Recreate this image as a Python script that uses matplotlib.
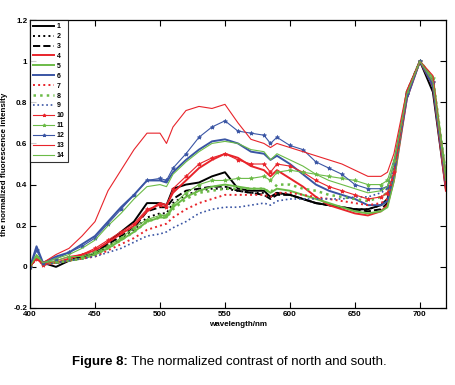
import numpy as np
import matplotlib
matplotlib.use('Agg')
import matplotlib.pyplot as plt

plt.rcParams['font.family'] = ['Liberation Sans', 'DejaVu Sans']

# wavelength grid (nm)
wl = [400, 405, 410, 420, 430, 440, 450, 460, 470, 480, 490, 500, 505, 510, 520, 530, 540,
      550, 560, 570, 580, 585, 590, 600, 610, 620, 630, 640, 650, 660, 670, 675, 680, 690,
      700, 710, 720]

s1 = [0, .05, .02, .00, .03, .05, .06, .12, .17, .22, .31, .31, .30, .38, .40, .41, .44,
      .46, .38, .37, .37, .34, .36, .35, .33, .31, .30, .29, .28, .28, .30, .33, .45, .85,
      1.0, .85, .38]
s2 = [0, .05, .02, .02, .03, .05, .06, .10, .14, .18, .24, .26, .26, .31, .35, .37, .38,
      .38, .37, .36, .36, .34, .36, .35, .33, .31, .30, .29, .28, .28, .30, .32, .45, .84,
      1.0, .88, .40]
s3 = [0, .05, .02, .02, .03, .05, .07, .11, .15, .19, .27, .29, .29, .33, .37, .38, .39,
      .39, .37, .36, .35, .33, .35, .35, .33, .31, .30, .29, .28, .27, .28, .31, .44, .84,
      1.0, .88, .40]
s4 = [0, .05, .01, .02, .04, .06, .08, .12, .16, .20, .27, .31, .30, .36, .42, .48, .52,
      .55, .53, .49, .47, .44, .47, .43, .39, .34, .30, .28, .26, .25, .27, .30, .42, .82,
      1.0, .88, .37]
s5 = [0, .05, .02, .02, .03, .04, .06, .09, .13, .17, .22, .24, .24, .29, .34, .37, .39,
      .40, .39, .38, .38, .36, .38, .37, .35, .33, .31, .29, .27, .26, .27, .29, .42, .84,
      1.0, .92, .44]
s6 = [0, .10, .02, .05, .07, .11, .15, .22, .29, .35, .42, .42, .41, .46, .52, .57, .61,
      .62, .60, .56, .55, .52, .54, .50, .45, .40, .37, .35, .33, .30, .30, .32, .45, .82,
      1.0, .88, .40]
s7 = [0, .04, .01, .02, .03, .04, .05, .08, .11, .14, .18, .20, .21, .24, .28, .31, .33,
      .35, .35, .35, .35, .34, .36, .36, .35, .34, .33, .32, .31, .30, .31, .33, .45, .84,
      1.0, .90, .42]
s8 = [0, .05, .02, .02, .03, .04, .06, .09, .13, .17, .22, .24, .24, .28, .33, .36, .37,
      .38, .38, .38, .38, .36, .40, .40, .38, .37, .35, .34, .33, .32, .34, .36, .47, .85,
      1.0, .92, .45]
s9 = [0, .05, .01, .02, .03, .04, .05, .07, .09, .12, .15, .16, .17, .19, .22, .26, .28,
      .29, .29, .30, .31, .30, .32, .33, .33, .33, .33, .33, .34, .34, .36, .38, .48, .85,
      1.0, .90, .42]
s10 = [0, .04, .01, .03, .05, .06, .09, .13, .17, .21, .28, .30, .29, .38, .44, .50, .53,
       .55, .52, .50, .50, .46, .50, .49, .46, .42, .39, .37, .35, .33, .34, .36, .46, .84,
       1.0, .90, .45]
s11 = [0, .05, .02, .03, .05, .05, .07, .10, .14, .19, .23, .25, .25, .30, .36, .40, .42,
       .42, .43, .43, .44, .42, .46, .47, .46, .45, .44, .43, .42, .40, .40, .42, .52, .85,
       1.0, .92, .46]
s12 = [0, .08, .02, .04, .07, .10, .14, .21, .28, .35, .42, .43, .42, .48, .55, .63, .68,
       .71, .66, .65, .64, .60, .63, .59, .57, .51, .48, .45, .40, .38, .38, .39, .50, .84,
       1.0, .90, .42]
s13 = [0, .04, .02, .06, .09, .15, .22, .37, .47, .57, .65, .65, .60, .68, .76, .78, .77,
       .79, .70, .62, .60, .58, .60, .58, .56, .54, .52, .50, .47, .44, .44, .46, .55, .86,
       1.0, .93, .40]
s14 = [0, .06, .02, .04, .06, .09, .13, .20, .26, .33, .39, .40, .39, .45, .51, .56, .60,
       .61, .60, .57, .56, .52, .55, .52, .49, .45, .42, .40, .38, .36, .37, .39, .50, .84,
       1.0, .90, .42]

labels = [str(i) for i in range(1, 15)]

red = '#e8242b'
green = '#6bbb47'
blue = '#3a55a4'

series = [s1, s2, s3, s4, s5, s6, s7, s8, s9, s10, s11, s12, s13, s14]
styles = [('k', '-', 1.4, None), ('k', ':', 1.4, None), ('k', '--', 1.4, None),
          (red, '-', 1.4, None), (green, '-', 1.4, None), (blue, '-', 1.4, None),
          (red, ':', 1.4, None), (green, ':', 1.8, None), (blue, ':', 1.2, None),
          (red, '-', 0.8, '*'), (green, '-', 0.8, '*'), (blue, '-', 0.8, '*'),
          (red, '-', 0.8, None), (green, '-', 0.8, None)]

fig = plt.figure(figsize=(4.55, 3.85), dpi=100)
ax = fig.add_axes([0.066, 0.2, 0.914, 0.748])

for s, lab, (c, ls, lw, mk) in zip(series, labels, styles):
    ax.plot(wl, s, color=c, linestyle=ls, linewidth=lw, marker=mk,
            markersize=3, markeredgewidth=0.6, label=lab)

ax.set_xlim(400, 720)
ax.set_ylim(-0.2, 1.2)
ax.set_xticks([400, 450, 500, 550, 600, 650, 700])
ax.set_yticks([-0.2, 0, 0.2, 0.4, 0.6, 0.8, 1, 1.2])
ax.set_yticklabels(['-0.2', '0', '0.2', '0.4', '0.6', '0.8', '1', '1.2'])
ax.tick_params(direction='in', top=True, right=True, length=4, width=0.8,
               labelsize=5.8, pad=2)
for t in ax.get_xticklabels() + ax.get_yticklabels():
    t.set_fontweight('bold')
for sp in ax.spines.values():
    sp.set_linewidth(0.9)

ax.set_xlabel('wavelength/nm', fontsize=5.8, fontweight='bold', labelpad=2)
ax.set_ylabel('the normalized fluorescence intensity', fontsize=5.8,
              fontweight='bold', labelpad=4)

leg = ax.legend(loc='upper left', prop={'weight': 'bold', 'size': 5},
                handlelength=3.0, handletextpad=0.4, labelspacing=0.42,
                borderaxespad=0, borderpad=0.45, fancybox=False, frameon=True,
                markerscale=0.8)
leg.get_frame().set_edgecolor('k')
leg.get_frame().set_linewidth(0.8)

# caption: bold "Figure 8:" followed by regular text
t1 = fig.text(0.158, 0.06, 'Figure 8:', ha='left', va='center',
              fontsize=9.5, fontweight='bold')
ax.annotate(' The normalized contrast of north and south.', xy=(1, 0),
            xycoords=t1, va='bottom', ha='left', fontsize=9.5,
            annotation_clip=False)

fig.savefig('out.png', dpi=100)
